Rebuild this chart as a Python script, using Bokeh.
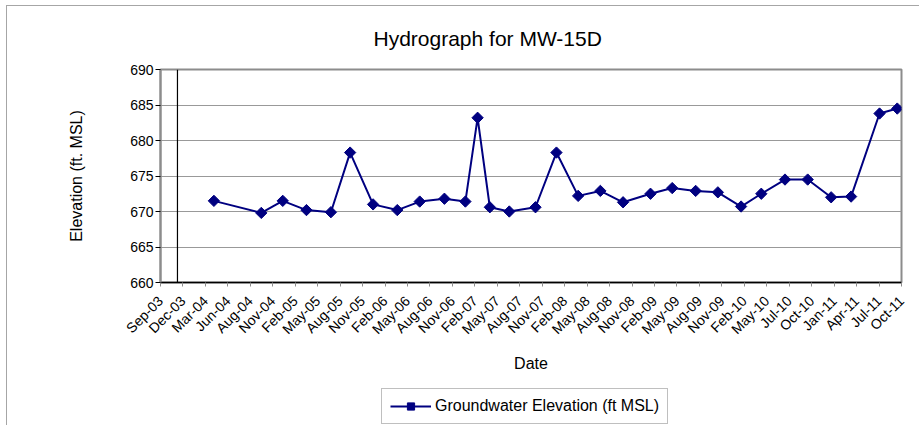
import math
import pandas as pd
from bokeh.plotting import figure
from bokeh.layouts import column
from bokeh.models import (Range1d, FixedTicker, CustomJSTickFormatter, Span,
                          Legend, LegendItem, ColumnDataSource)
from bokeh.embed import file_html
from bokeh.resources import INLINE

# ---- chart text -------------------------------------------------------------
TITLE = "Hydrograph for MW-15D"
X_TITLE = "Date"
Y_TITLE = "Elevation (ft. MSL)"
SERIES_NAME = "Groundwater Elevation (ft MSL)"

# ---- measurements -----------------------------------------------------------
SAMPLE_DATES = [
    "2004-04-07", "2004-10-14", "2005-01-08", "2005-04-13", "2005-07-20",
    "2005-10-05", "2006-01-05", "2006-04-12", "2006-07-11", "2006-10-18",
    "2007-01-10", "2007-02-28", "2007-04-18", "2007-07-05", "2007-10-18",
    "2008-01-10", "2008-04-06", "2008-07-04", "2008-10-03", "2009-01-21",
    "2009-04-18", "2009-07-21", "2009-10-18", "2010-01-19", "2010-04-10",
    "2010-07-14", "2010-10-13", "2011-01-15", "2011-04-05", "2011-07-28",
    "2011-10-07",
]
ELEVATIONS = [
    671.5, 669.8, 671.5, 670.2, 669.9,
    678.3, 671.0, 670.2, 671.4, 671.8,
    671.4, 683.2, 670.6, 670.0, 670.6,
    678.3, 672.2, 672.9, 671.3, 672.5,
    673.3, 672.9, 672.7, 670.7, 672.5,
    674.5, 674.5, 672.0, 672.1, 683.8,
    684.5,
]

# ---- date axis: one label every 90 days from the axis start ----------------
TICK_LABELS = [
    "Sep-03", "Dec-03", "Mar-04", "Jun-04", "Aug-04", "Nov-04", "Feb-05",
    "May-05", "Aug-05", "Nov-05", "Feb-06", "May-06", "Aug-06", "Nov-06",
    "Feb-07", "May-07", "Aug-07", "Nov-07", "Feb-08", "May-08", "Aug-08",
    "Nov-08", "Feb-09", "May-09", "Aug-09", "Nov-09", "Feb-10", "May-10",
    "Jul-10", "Oct-10", "Jan-11", "Apr-11", "Jul-11", "Oct-11",
]
AXIS_START = "2003-09-06"
TICK_STEP_DAYS = 90
VALUE_AXIS_DATE = "2003-11-13"   # where the vertical axis line crosses

Y_MIN, Y_MAX, Y_STEP = 660, 690, 5

# ---- layout (pixels) --------------------------------------------------------
PAGE_W, PAGE_H = 919, 425
EDGE_X, EDGE_Y = 6, 5            # chart-area border offset on the page
INNER_W = PAGE_W - EDGE_X - 1
CHART_H = 376
LEGEND_H = PAGE_H - EDGE_Y - 1 - CHART_H
BORDER_LEFT, BORDER_RIGHT, BORDER_TOP, BORDER_BOTTOM = 153, 18, 63, 100

NAVY = "#000080"
FONT = "Liberation Sans"
LINE_STYLE = dict(line_color=NAVY, line_width=2)
MARK_STYLE = dict(marker="square", angle=math.pi / 4, size=8,
                  fill_color=NAVY, line_color=NAVY)


def ms(d):
    return pd.Timestamp(d).value / 1e6


start_ms = ms(AXIS_START)
step_ms = TICK_STEP_DAYS * 86400000.0
tick_ms = [start_ms + k * step_ms for k in range(len(TICK_LABELS))]

src = ColumnDataSource(dict(date=pd.to_datetime(SAMPLE_DATES), elev=ELEVATIONS))

chart = figure(width=INNER_W, height=CHART_H, x_axis_type="datetime",
               x_range=Range1d(tick_ms[0], tick_ms[-1]),
               y_range=Range1d(Y_MIN, Y_MAX),
               output_backend="svg", toolbar_location=None,
               min_border_left=BORDER_LEFT, min_border_right=BORDER_RIGHT,
               min_border_top=BORDER_TOP, min_border_bottom=BORDER_BOTTOM,
               x_axis_label=X_TITLE, y_axis_label=Y_TITLE)

chart.background_fill_color = "white"
chart.border_fill_color = "white"
chart.outline_line_color = "#8c8c8c"
chart.outline_line_width = 2

# title
chart.title.text = TITLE
chart.title.align = "left"
chart.title.vertical_align = "middle"
chart.title.offset = 213
chart.title.standoff = 37
chart.title.text_font = FONT
chart.title.text_font_size = "21px"
chart.title.text_font_style = "normal"
chart.title.text_color = "black"

# x axis
chart.xaxis.ticker = FixedTicker(ticks=tick_ms)
chart.xaxis.formatter = CustomJSTickFormatter(
    args=dict(labels=TICK_LABELS, start=start_ms, step=step_ms),
    code="const i = Math.round((tick - start) / step); return labels[i] ?? '';")
chart.xaxis.major_label_orientation = math.pi / 4
chart.xaxis.major_label_text_font = FONT
chart.xaxis.major_label_text_font_size = "14px"
chart.xaxis.major_label_text_color = "black"
chart.xaxis.major_label_standoff = 12
chart.xaxis.axis_line_color = "black"
chart.xaxis.axis_line_width = 1.5
chart.xaxis.major_tick_line_color = "#8c8c8c"
chart.xaxis.major_tick_in = 0
chart.xaxis.major_tick_out = 4
chart.xaxis.minor_tick_line_color = None
chart.xaxis.axis_label_text_font = FONT
chart.xaxis.axis_label_text_font_size = "16px"
chart.xaxis.axis_label_text_font_style = "normal"
chart.xaxis.axis_label_text_color = "black"
chart.xaxis.axis_label_standoff = 9

# y axis
y_ticks = list(range(Y_MIN, Y_MAX + 1, Y_STEP))
chart.yaxis.ticker = FixedTicker(ticks=y_ticks)
chart.yaxis.major_label_text_font = FONT
chart.yaxis.major_label_text_font_size = "14px"
chart.yaxis.major_label_text_color = "black"
chart.yaxis.major_label_standoff = 2
chart.yaxis.axis_line_color = "#8c8c8c"
chart.yaxis.axis_line_width = 2
chart.yaxis.major_tick_line_color = "black"
chart.yaxis.major_tick_in = 0
chart.yaxis.major_tick_out = 5
chart.yaxis.minor_tick_line_color = None
chart.yaxis.axis_label_text_font = FONT
chart.yaxis.axis_label_text_font_size = "16px"
chart.yaxis.axis_label_text_font_style = "normal"
chart.yaxis.axis_label_text_color = "black"
chart.yaxis.axis_label_standoff = 42

chart.xgrid.visible = False
chart.ygrid.ticker = FixedTicker(ticks=y_ticks)
chart.ygrid.grid_line_color = "#999999"
chart.ygrid.grid_line_width = 1

# vertical axis line drawn at its crossing date
chart.add_layout(Span(location=ms(VALUE_AXIS_DATE), dimension="height",
                      line_color="black", line_width=1.2))

# series
chart.line("date", "elev", source=src, **LINE_STYLE)
chart.scatter("date", "elev", source=src, **MARK_STYLE)

# ---- legend strip under the chart ------------------------------------------
# The strip's frame lines up with the chart frame inside the column, so the
# legend location is measured from the chart frame's left edge.
key = figure(width=INNER_W, height=LEGEND_H, output_backend="svg",
             toolbar_location=None, min_border=0,
             x_axis_location=None, y_axis_location=None,
             x_range=Range1d(0, 1), y_range=Range1d(0, 1))
key.outline_line_color = None
key.grid.visible = False
key.background_fill_color = "white"
key.border_fill_color = "white"

# same series, outside this strip's ranges: only the legend swatch shows
key_line = key.line("date", "elev", source=src, **LINE_STYLE)
key_mark = key.scatter("date", "elev", source=src, **MARK_STYLE)

legend = Legend(items=[LegendItem(label=SERIES_NAME, renderers=[key_line, key_mark])],
                location=(221, 1),
                orientation="horizontal",
                border_line_color="#808080", border_line_width=1,
                background_fill_color="white", background_fill_alpha=1,
                padding=8, margin=0, spacing=0,
                glyph_width=41, glyph_height=18, label_height=18, label_standoff=4,
                label_text_font=FONT, label_text_font_size="16px",
                label_text_color="black")
key.add_layout(legend)

# light border around the whole chart area
p = column(chart, key, spacing=0,
           styles={"margin-left": f"{EDGE_X}px", "margin-top": f"{EDGE_Y}px",
                   "border-left": "1px solid #a6a6a6",
                   "border-top": "1px solid #a6a6a6"})

open("out.html", "w").write(file_html(p, INLINE))
